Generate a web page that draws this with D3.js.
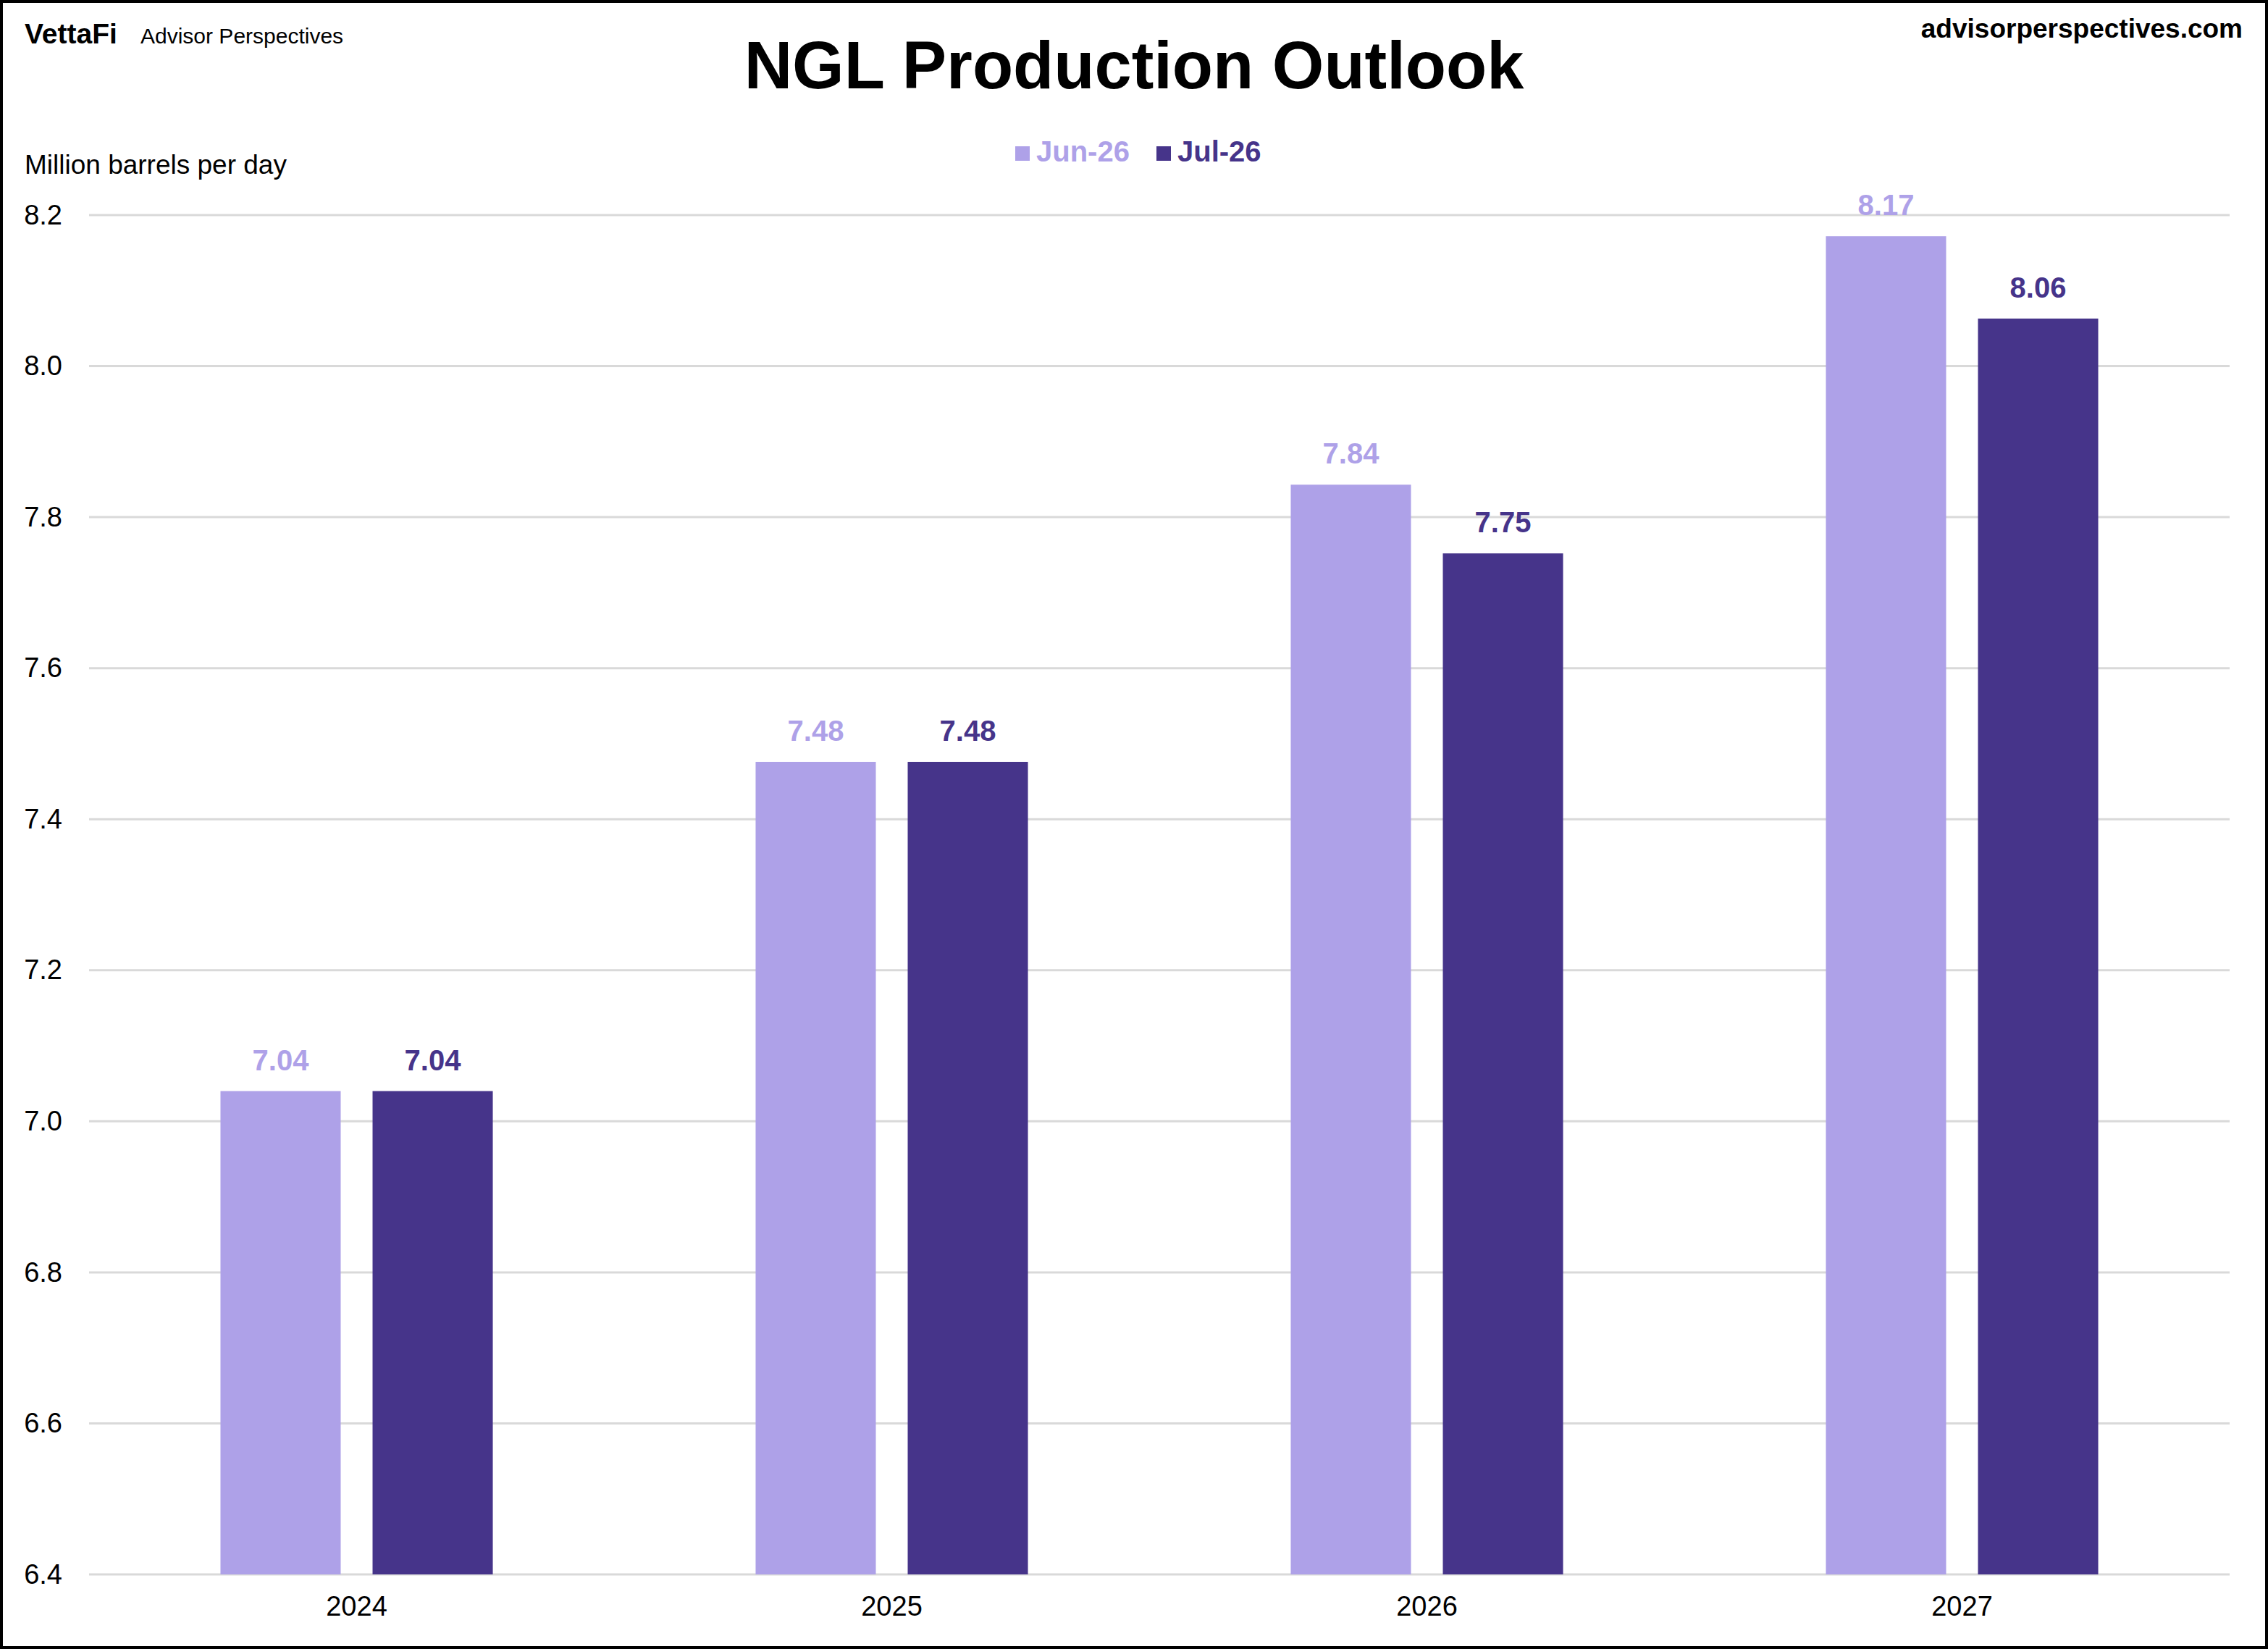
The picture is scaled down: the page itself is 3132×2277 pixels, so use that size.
<!DOCTYPE html>
<html>
<head>
<meta charset="utf-8">
<script src="https://cdn.jsdelivr.net/npm/d3@7"></script>
<style>
  body { margin: 0; background: #fff; }
  svg { display: block; font-family: "Liberation Sans", Arial, sans-serif; }
</style>
</head>
<body>
<div id="chart"></div>
<script>
const years = ["2024", "2025", "2026", "2027"]
const seriesNames = ["Jun-26", "Jul-26"]
const jun26 = [7.04, 7.476, 7.843, 8.172]
const jul26 = [7.04, 7.476, 7.752, 8.063]
const yTicks = [6.4, 6.6, 6.8, 7.0, 7.2, 7.4, 7.6, 7.8, 8.0, 8.2]

const colors = { "Jun-26": "#AEA1E8", "Jul-26": "#46348A" }

const width = 3132, height = 2277
const margin = { top: 297, right: 53, bottom: 103, left: 123 }

const svg = d3.select("#chart")
    .append("svg")
    .attr("width", width)
    .attr("height", height)
    .attr("viewBox", [0, 0, width, height])

svg.append("rect")
    .attr("x", 2).attr("y", 2)
    .attr("width", width - 4).attr("height", height - 4)
    .attr("fill", "#fff")
    .attr("stroke", "#000")
    .attr("stroke-width", 4)

// build rows for bars
const data = years.map((y, i) => ({ year: y, "Jun-26": jun26[i], "Jul-26": jul26[i] }))

const x0 = d3.scaleBand()
    .domain(years)
    .range([margin.left, width - margin.right])

const x1 = d3.scaleBand()
    .domain(seriesNames)
    .range([0, x0.bandwidth()])
    .paddingInner(0.2095)
    .paddingOuter(0.864)

const y = d3.scaleLinear()
    .domain([6.4, 8.2])
    .range([height - margin.bottom, margin.top])

// gridlines
svg.append("g")
    .selectAll("line")
    .data(yTicks)
    .join("line")
    .attr("x1", margin.left)
    .attr("x2", width - margin.right)
    .attr("y1", d => y(d))
    .attr("y2", d => y(d))
    .attr("stroke", "#d9d9d9")
    .attr("stroke-width", 3)

// y axis labels
const yAxis = d3.axisLeft(y)
    .tickValues(yTicks)
    .tickFormat(d3.format(".1f"))
    .tickSize(0)
    .tickPadding(37)

svg.append("g")
    .attr("transform", `translate(${margin.left},0)`)
    .call(yAxis)
    .call(g => g.select(".domain").remove())
    .selectAll("text")
    .attr("font-family", "Liberation Sans, Arial, sans-serif")
    .attr("font-size", 38)
    .attr("fill", "#000")

// x axis labels
const xAxis = d3.axisBottom(x0).tickSize(0).tickPadding(30)

svg.append("g")
    .attr("transform", `translate(0,${height - margin.bottom})`)
    .call(xAxis)
    .call(g => g.select(".domain").remove())
    .selectAll("text")
    .attr("font-family", "Liberation Sans, Arial, sans-serif")
    .attr("font-size", 38)
    .attr("fill", "#000")

// bars
const groups = svg.append("g")
    .selectAll("g")
    .data(data)
    .join("g")
    .attr("transform", d => `translate(${x0(d.year)},0)`)

groups.selectAll("rect")
    .data(d => seriesNames.map(s => ({ key: s, value: d[s] })))
    .join("rect")
    .attr("x", d => x1(d.key))
    .attr("width", x1.bandwidth())
    .attr("y", d => y(d.value))
    .attr("height", d => y(6.4) - y(d.value))
    .attr("fill", d => colors[d.key])

// value labels
groups.selectAll("text")
    .data(d => seriesNames.map(s => ({ key: s, value: d[s] })))
    .join("text")
    .attr("x", d => x1(d.key) + x1.bandwidth() / 2)
    .attr("y", d => y(d.value) - 29)
    .attr("text-anchor", "middle")
    .attr("font-size", 40)
    .attr("font-weight", "bold")
    .attr("fill", d => colors[d.key])
    .text(d => d3.format(".2f")(d.value))

// title
svg.append("text")
    .attr("x", width / 2)
    .attr("y", 122)
    .attr("text-anchor", "middle")
    .attr("font-size", 92)
    .attr("font-weight", "bold")
    .text("NGL Production Outlook")

// legend
const legendPos = [1402, 1597]
const legend = svg.append("g")
    .selectAll("g")
    .data(seriesNames)
    .join("g")
    .attr("transform", (d, i) => `translate(${legendPos[i]},0)`)

legend.append("rect")
    .attr("y", 202)
    .attr("width", 20)
    .attr("height", 20)
    .attr("fill", d => colors[d])

legend.append("text")
    .attr("x", 29)
    .attr("y", 223)
    .attr("font-size", 40)
    .attr("font-weight", "bold")
    .attr("fill", d => colors[d])
    .text(d => d)

// y axis title
svg.append("text")
    .attr("x", 34)
    .attr("y", 240)
    .attr("font-size", 37)
    .text("Million barrels per day")

// branding
svg.append("text")
    .attr("x", 34)
    .attr("y", 60)
    .attr("font-size", 39)
    .attr("font-weight", "bold")
    .text("VettaFi")

svg.append("text")
    .attr("x", 194)
    .attr("y", 60)
    .attr("font-size", 30)
    .text("Advisor Perspectives")

svg.append("text")
    .attr("x", 3097)
    .attr("y", 52)
    .attr("text-anchor", "end")
    .attr("font-size", 37)
    .attr("font-weight", "bold")
    .text("advisorperspectives.com")
</script>
</body>
</html>
